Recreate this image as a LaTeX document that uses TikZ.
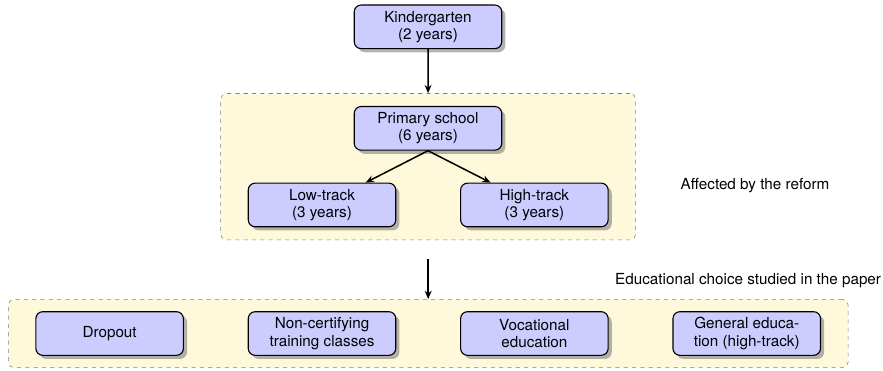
\documentclass[tikz,border=0pt]{standalone}
\usepackage{fontspec}
\setmainfont{TeX Gyre Heros}
\usepackage{tikz}
\usetikzlibrary{fit}
\usetikzlibrary{positioning}
\usetikzlibrary{shadows}
\usetikzlibrary{backgrounds}
\usetikzlibrary{arrows.meta}

\definecolor{zonefill}{RGB}{255,249,219}

\begin{document}
\begin{tikzpicture}[node distance=46pt, font=\fontsize{11}{12.5}\selectfont]

\tikzstyle{stage}=[rectangle, rounded corners=5pt, thick, draw=black,
  fill=blue!20, drop shadow={opacity=0.6}, minimum width=106.5pt, minimum height=31.5pt,
  inner xsep=1ex, inner ysep=2pt, align=center]
\tikzstyle{zone}=[rectangle, rounded corners=4pt, draw=gray, dashed,
  fill=zonefill, inner xsep=19.5pt, inner ysep=9pt]
\tikzstyle{note}=[inner sep=0pt]

\tikzstyle{arrseq}=[-{Stealth[length=6pt, width=5pt]}, line width=1.1pt, draw=black]

\node [stage] (kinder) {Kindergarten\\(2 years)};
\node [stage, below=41pt of kinder] (primary) {Primary school\\(6 years)};
\node [stage, below=23pt of primary, xshift=-76.5pt] (low) {Low-track\\(3 years)};
\draw [arrseq] (primary.south) -- (low);
\node [stage, right=of low] (high) {High-track\\(3 years)};
\draw [arrseq] (primary.south) -- (high);

\node [stage, below=60.5pt of low] (noncert) {Non-certifying\\training classes};
\node [stage, left=of noncert] (dropout) {Dropout};
\node [stage, right=of noncert] (vocational) {Vocational\\education};
\node [stage, right=of vocational] (general) {General educa-\\tion (high-track)};

\begin{pgfonlayer}{background}
\node [zone, fit=(primary) (low) (high)] (reform) {};
\node [zone, inner ysep=8.5pt, fit=(dropout) (noncert) (vocational) (general)] (choice) {};
\end{pgfonlayer}

\draw [arrseq] (kinder) -- (reform);
\coordinate [below=14pt of reform] (gap);
\draw [arrseq] (gap) -- (choice);

\node [note, anchor=west] (affected) at ([xshift=32pt, yshift=-13.5pt]reform.east)
  {Affected by the reform};
\node [note, anchor=east] (studied) at ([xshift=23.8pt, yshift=13pt]choice.north east)
  {Educational choice studied in the paper};

\useasboundingbox ([xshift=-5.8pt, yshift=-2.2pt]choice.south west) rectangle ++(637.4pt,267.8pt);

\end{tikzpicture}
\end{document}
